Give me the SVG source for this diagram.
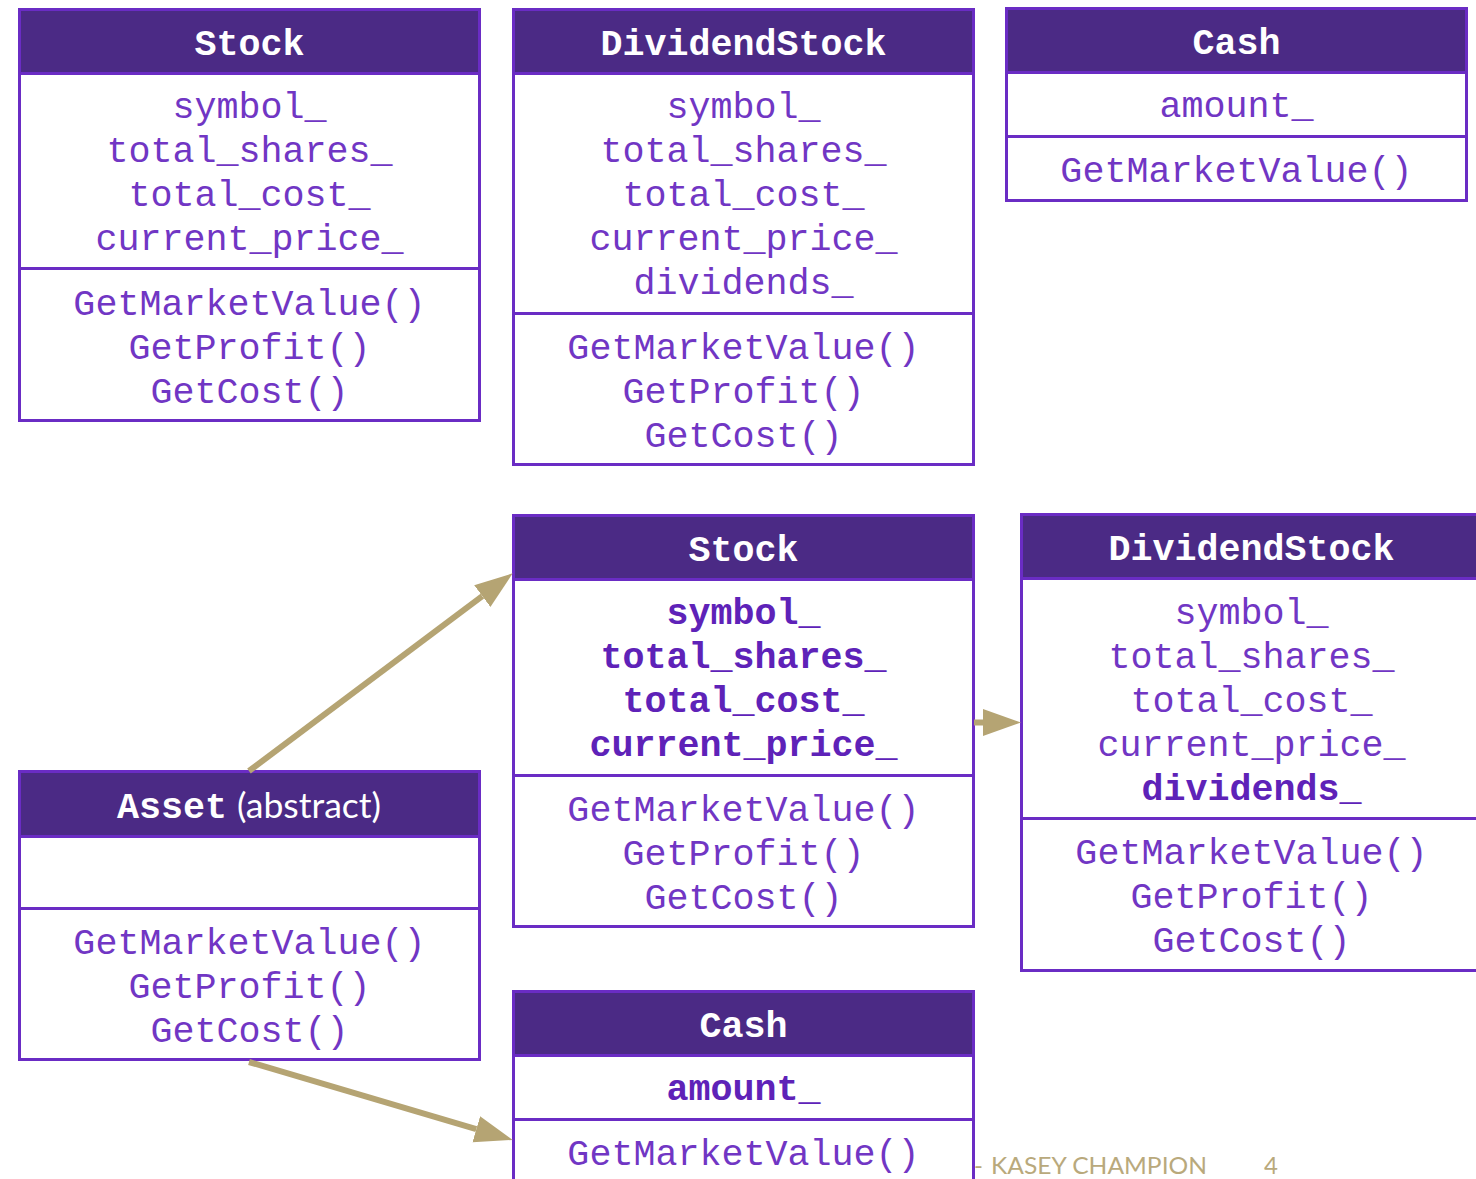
<svg xmlns="http://www.w3.org/2000/svg" width="1476" height="1179" viewBox="0 0 1476 1179">
  <defs>
    <style>
      .box { fill: #ffffff; stroke: #6a2cc4; stroke-width: 3; }
      .head { fill: #4b2a85; stroke: #6a2cc4; stroke-width: 3; }
      .div { stroke: #6a2cc4; stroke-width: 3; fill: none; }
      .title { font-family: "Courier New", "Nimbus Mono PS", "Nimbus Mono L", FreeMono, "Liberation Mono", monospace; font-weight: bold; font-size: 36.7px; fill: #ffffff; text-anchor: middle; }
      .mem { font-family: "Courier New", "Nimbus Mono PS", "Nimbus Mono L", FreeMono, "Liberation Mono", monospace; font-size: 36.7px; fill: #7136c4; text-anchor: middle; }
      .mem.b { font-weight: bold; fill: #5e22b8; }
      .sans { font-family: Lato, "Open Sans", sans-serif; }
      .conn { stroke: #b5a473; stroke-width: 6; fill: none; marker-end: url(#head); }
      .foot { font-family: Lato, "Open Sans", sans-serif; font-size: 24px; fill: #b9a97c; }
    </style>
    <marker id="head" markerUnits="userSpaceOnUse" markerWidth="40" markerHeight="28" refX="0" refY="13.5" orient="auto">
      <path d="M0,0 L38,13.5 L0,27 Z" fill="#b5a473"/>
    </marker>
  </defs>

  <rect width="1476" height="1179" fill="#ffffff"/>

  <!-- footer (partly behind the Cash class box) -->
  <g id="footer">
    <text class="foot" x="974" y="1174">-</text>
    <text class="foot" x="991" y="1174" textLength="216" lengthAdjust="spacingAndGlyphs">KASEY CHAMPION</text>
    <text class="foot" x="1264" y="1174">4</text>
  </g>

  <!-- Stock (top) -->
  <g id="stock-top">
    <rect class="box" x="19.5" y="9.5" width="460" height="411"/>
    <rect class="head" x="19.5" y="9.5" width="460" height="64"/>
    <line class="div" x1="19.5" y1="268.5" x2="479.5" y2="268.5"/>
    <text class="title" x="249.5" y="55">Stock</text>
    <text class="mem" x="249.5" y="118">symbol_</text>
    <text class="mem" x="249.5" y="162">total_shares_</text>
    <text class="mem" x="249.5" y="206">total_cost_</text>
    <text class="mem" x="249.5" y="250">current_price_</text>
    <text class="mem" x="249.5" y="315">GetMarketValue()</text>
    <text class="mem" x="249.5" y="359">GetProfit()</text>
    <text class="mem" x="249.5" y="403">GetCost()</text>
  </g>

  <!-- DividendStock (top) -->
  <g id="dividendstock-top">
    <rect class="box" x="513.5" y="9.5" width="460" height="455"/>
    <rect class="head" x="513.5" y="9.5" width="460" height="64"/>
    <line class="div" x1="513.5" y1="313.5" x2="973.5" y2="313.5"/>
    <text class="title" x="743.5" y="55">DividendStock</text>
    <text class="mem" x="743.5" y="118">symbol_</text>
    <text class="mem" x="743.5" y="162">total_shares_</text>
    <text class="mem" x="743.5" y="206">total_cost_</text>
    <text class="mem" x="743.5" y="250">current_price_</text>
    <text class="mem" x="743.5" y="294">dividends_</text>
    <text class="mem" x="743.5" y="359">GetMarketValue()</text>
    <text class="mem" x="743.5" y="403">GetProfit()</text>
    <text class="mem" x="743.5" y="447">GetCost()</text>
  </g>

  <!-- Cash (top) -->
  <g id="cash-top">
    <rect class="box" x="1006.5" y="8.5" width="460" height="192"/>
    <rect class="head" x="1006.5" y="8.5" width="460" height="64"/>
    <line class="div" x1="1006.5" y1="136.5" x2="1466.5" y2="136.5"/>
    <text class="title" x="1236.5" y="54">Cash</text>
    <text class="mem" x="1236.5" y="117">amount_</text>
    <text class="mem" x="1236.5" y="182">GetMarketValue()</text>
  </g>

  <!-- Stock (derived) -->
  <g id="stock">
    <rect class="box" x="513.5" y="515.5" width="460" height="411"/>
    <rect class="head" x="513.5" y="515.5" width="460" height="64"/>
    <line class="div" x1="513.5" y1="775.5" x2="973.5" y2="775.5"/>
    <text class="title" x="743.5" y="561">Stock</text>
    <text class="mem b" x="743.5" y="624">symbol_</text>
    <text class="mem b" x="743.5" y="668">total_shares_</text>
    <text class="mem b" x="743.5" y="712">total_cost_</text>
    <text class="mem b" x="743.5" y="756">current_price_</text>
    <text class="mem" x="743.5" y="821">GetMarketValue()</text>
    <text class="mem" x="743.5" y="865">GetProfit()</text>
    <text class="mem" x="743.5" y="909">GetCost()</text>
  </g>

  <!-- DividendStock (derived) -->
  <g id="dividendstock">
    <rect class="box" x="1021.5" y="514.5" width="460" height="456"/>
    <rect class="head" x="1021.5" y="514.5" width="460" height="64"/>
    <line class="div" x1="1021.5" y1="818.5" x2="1481.5" y2="818.5"/>
    <text class="title" x="1251.5" y="560">DividendStock</text>
    <text class="mem" x="1251.5" y="624">symbol_</text>
    <text class="mem" x="1251.5" y="668">total_shares_</text>
    <text class="mem" x="1251.5" y="712">total_cost_</text>
    <text class="mem" x="1251.5" y="756">current_price_</text>
    <text class="mem b" x="1251.5" y="800">dividends_</text>
    <text class="mem" x="1251.5" y="864">GetMarketValue()</text>
    <text class="mem" x="1251.5" y="908">GetProfit()</text>
    <text class="mem" x="1251.5" y="952">GetCost()</text>
  </g>

  <!-- Asset (abstract base) -->
  <g id="asset">
    <rect class="box" x="19.5" y="771.5" width="460" height="288"/>
    <rect class="head" x="19.5" y="771.5" width="460" height="65"/>
    <line class="div" x1="19.5" y1="908.5" x2="479.5" y2="908.5"/>
    <text class="title" x="227" y="818" style="text-anchor:end">Asset</text>
    <text class="title sans" x="237" y="818" style="text-anchor:start;font-weight:normal;font-size:35px" textLength="144" lengthAdjust="spacingAndGlyphs">(abstract)</text>
    <text class="mem" x="249.5" y="954">GetMarketValue()</text>
    <text class="mem" x="249.5" y="998">GetProfit()</text>
    <text class="mem" x="249.5" y="1042">GetCost()</text>
  </g>

  <!-- Cash (derived) -->
  <g id="cash">
    <rect class="box" x="513.5" y="991.5" width="460" height="220"/>
    <rect class="head" x="513.5" y="991.5" width="460" height="64"/>
    <line class="div" x1="513.5" y1="1119.5" x2="973.5" y2="1119.5"/>
    <text class="title" x="743.5" y="1037">Cash</text>
    <text class="mem b" x="743.5" y="1100">amount_</text>
    <text class="mem" x="743.5" y="1165">GetMarketValue()</text>
  </g>

  <!-- inheritance arrows -->
  <g id="connectors">
    <line class="conn" x1="249" y1="771" x2="482.3" y2="596.1"/>
    <line class="conn" x1="249" y1="1062" x2="476.3" y2="1129.2"/>
    <line class="conn" x1="974" y1="722.5" x2="983" y2="722.5"/>
  </g>
</svg>
